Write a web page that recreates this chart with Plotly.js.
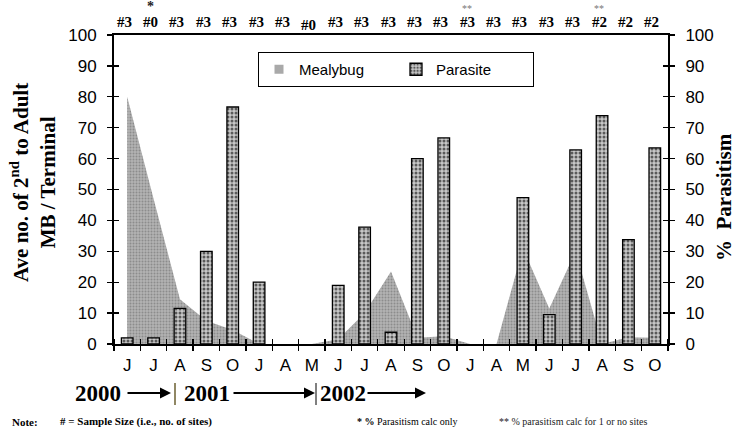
<!DOCTYPE html>
<html>
<head>
<meta charset="utf-8">
<script src="https://cdn.plot.ly/plotly-3.0.1.min.js"></script>
<style>html,body{margin:0;padding:0;background:#fff}#chart{width:754px;height:440px}</style>
</head>
<body>
<div id="chart"></div>
<script>
// ---- data ----
const months = ['J','J','A','S','O','J','A','M','J','J','A','S','O','J','A','M','J','J','A','S','O'];
const mealybug = [80,47,14.5,7.5,4.5,0,0,0,1.5,10,23.5,2,2.5,0,0,31,11.5,30,0,2.2,2];
const parasite = [2,2,11.5,30,76.7,20,null,null,19,37.8,3.8,60,66.7,null,null,47.4,9.5,62.8,73.9,33.8,63.5];
const sampleSize = ['#3','#0','#3','#3','#3','#3','#3','#0','#3','#3','#3','#3','#3','#3','#3','#3','#3','#3','#2','#2','#2'];
const flags = ['','*','','','','','','','','','','','','**','','','','','**','',''];
const years = ['2000','2001','2002'];
const yTicks = [0,10,20,30,40,50,60,70,80,90,100];

const idx = months.map((_, i) => i);

// ---- layout helpers (pixel -> paper) ----
const L = 114, R = 668, T = 35, B = 344;
const px = X => (X - L) / (R - L);
const py = Y => (B - Y) / (B - T);

const serif = 'Liberation Serif, Times New Roman, serif';
const sans = 'Liberation Sans, Arial, sans-serif';

const traces = [
  {
    type: 'scatter', name: 'Mealybug', x: idx, y: mealybug, showlegend: false,
    mode: 'none', fill: 'tozeroy', fillcolor: '#a9a9a9',
    fillpattern: {shape: '.', size: 3, solidity: 0.35, fgcolor: '#8c8c8c', bgcolor: '#b3b3b3'},
    xaxis: 'x', yaxis: 'y', hoverinfo: 'skip'
  },
  {
    // legend entry for the area (square swatch like the original)
    type: 'scatter', name: 'Mealybug', x: [null], y: [null], mode: 'markers',
    marker: {symbol: 'square', size: 9, color: '#a9a9a9', line: {width: 0}},
    xaxis: 'x', yaxis: 'y', hoverinfo: 'skip'
  },
  {
    type: 'bar', name: 'Parasite', x: idx, y: parasite, width: 0.44,
    marker: {color: '#b8b8b8', line: {color: '#000', width: 1.3},
      pattern: {shape: '.', size: 4, solidity: 0.45, fgcolor: '#5a5a5a', bgcolor: '#c8c8c8'}},
    xaxis: 'x', yaxis: 'y2', hoverinfo: 'skip'
  },
  {type: 'scatter', x: [], y: [], xaxis: 'x2', yaxis: 'y3', showlegend: false},
  {type: 'scatter', x: [], y: [], xaxis: 'x2', yaxis: 'y4', showlegend: false}
];

const yBase = {
  range: [0, 100], tickvals: yTicks, showgrid: false, zeroline: false,
  showline: true, linecolor: '#000', linewidth: 2,
  ticks: 'outside', ticklen: 5, tickcolor: '#000', tickwidth: 1.3,
  tickfont: {family: sans, size: 17, color: '#000'}, ticklabelstandoff: 7,
  fixedrange: true
};

const annotations = [];
sampleSize.forEach((s, i) => {
  annotations.push({xref: 'x', yref: 'paper', x: i, y: py(22), text: '<b>' + s + '</b>',
    showarrow: false, xshift: -3, yshift: (i === 7 ? -3 : 0),
    font: {family: serif, size: 15, color: '#000'}, xanchor: 'center', yanchor: 'middle'});
  if (flags[i] === '*') {
    annotations.push({xref: 'x', yref: 'paper', x: i, y: py(7), text: '<b>*</b>', showarrow: false, xshift: -3,
      font: {family: serif, size: 14, color: '#222'}, xanchor: 'center', yanchor: 'middle'});
  } else if (flags[i] === '**') {
    annotations.push({xref: 'x', yref: 'paper', x: i, y: py(9), text: '**', showarrow: false, xshift: -3,
      font: {family: serif, size: 10, color: '#777'}, xanchor: 'center', yanchor: 'middle'});
  }
});

// axis titles
annotations.push({xref: 'paper', yref: 'paper', x: px(33), y: py(183), textangle: -90, showarrow: false,
  text: '<b>Ave no. of 2<sup>nd</sup> to Adult</b><br><b>MB / Terminal</b>',
  font: {family: serif, size: 21, color: '#000'}, xanchor: 'center', yanchor: 'middle'});
annotations.push({xref: 'paper', yref: 'paper', x: px(724), y: py(197), textangle: -90, showarrow: false,
  text: '<b>%\u00a0\u00a0Parasitism</b>',
  font: {family: serif, size: 21, color: '#000'}, xanchor: 'center', yanchor: 'middle'});

// year row
const yearX = [98, 207, 343];
years.forEach((yr, i) => {
  annotations.push({xref: 'paper', yref: 'paper', x: px(yearX[i]), y: py(393), text: '<b>' + yr + '</b>',
    showarrow: false, font: {family: serif, size: 23, color: '#000'}, xanchor: 'center', yanchor: 'middle'});
});
const arrows = [[126, 171], [232, 315], [366, 426]];
arrows.forEach(a => {
  annotations.push({xref: 'paper', yref: 'paper', x: px(a[1]), y: py(393), ax: -(a[1] - a[0]), ay: 0,
    text: '', showarrow: true, arrowhead: 2, arrowsize: 1.1, arrowwidth: 2, arrowcolor: '#000'});
});

// notes
annotations.push({xref: 'paper', yref: 'paper', x: px(10), y: py(422), xanchor: 'left', yanchor: 'middle', showarrow: false,
  text: '<b>Note:</b>', font: {family: serif, size: 11, color: '#000'}});
annotations.push({xref: 'paper', yref: 'paper', x: px(58), y: py(422), xanchor: 'left', yanchor: 'middle', showarrow: false,
  text: '<b># = Sample Size (i.e., no. of sites)</b>', font: {family: serif, size: 11, color: '#000'}});
annotations.push({xref: 'paper', yref: 'paper', x: px(355), y: py(422), xanchor: 'left', yanchor: 'middle', showarrow: false,
  text: '<b>* %</b> Parasitism calc only', font: {family: serif, size: 10, color: '#000'}});
annotations.push({xref: 'paper', yref: 'paper', x: px(497), y: py(422), xanchor: 'left', yanchor: 'middle', showarrow: false,
  text: '** % parasitism calc for 1 or no sites', font: {family: serif, size: 10, color: '#222'}});

const shapes = [
  {type: 'line', xref: 'paper', yref: 'paper', x0: px(175), x1: px(175), y0: py(383), y1: py(405),
    line: {color: '#6b5f30', width: 1.5}},
  {type: 'line', xref: 'paper', yref: 'paper', x0: px(316), x1: px(316), y0: py(383), y1: py(405),
    line: {color: '#000', width: 1}}
];

const layout = {
  width: 754, height: 440, autosize: false,
  margin: {l: L, r: 754 - R, t: T, b: 440 - B, pad: 0},
  paper_bgcolor: '#fff', plot_bgcolor: '#fff',
  showlegend: true,
  legend: {orientation: 'h', x: px(258), y: py(52), xanchor: 'left', yanchor: 'top',
    bordercolor: '#000', borderwidth: 1, bgcolor: '#fff',
    font: {family: sans, size: 15, color: '#000'}, entrywidth: 92, itemwidth: 30, traceorder: 'normal'},
  xaxis: {
    range: [-0.5, 20.5], tickvals: idx, ticktext: months, ticks: '', showgrid: false, zeroline: false,
    showline: true, linecolor: '#000', linewidth: 2, mirror: true,
    minor: {tick0: 0.5, dtick: 1, ticks: 'outside', ticklen: 5, tickcolor: '#000', tickwidth: 1.3, showgrid: false},
    tickfont: {family: sans, size: 17, color: '#000'}, ticklabelstandoff: 5, anchor: 'y', fixedrange: true
  },
  xaxis2: {
    range: [-0.5, 20.5], overlaying: 'x', anchor: 'y3', showticklabels: false, showgrid: false, zeroline: false,
    showline: false, ticks: '', tickvals: [],
    minor: {tick0: 0.5, dtick: 1, ticks: 'inside', ticklen: 5, tickcolor: '#000', tickwidth: 1.3, showgrid: false},
    fixedrange: true
  },
  yaxis: Object.assign({}, yBase, {side: 'left', anchor: 'x'}),
  yaxis2: Object.assign({}, yBase, {side: 'right', overlaying: 'y', anchor: 'x'}),
  yaxis3: Object.assign({}, yBase, {side: 'left', overlaying: 'y', anchor: 'x2', ticks: 'inside', showticklabels: false, showline: false}),
  yaxis4: Object.assign({}, yBase, {side: 'right', overlaying: 'y', anchor: 'x2', ticks: 'inside', showticklabels: false, showline: false}),
  annotations: annotations,
  shapes: shapes,
  bargap: 0
};

Plotly.newPlot('chart', traces, layout, {staticPlot: true, displayModeBar: false});
</script>
</body>
</html>
